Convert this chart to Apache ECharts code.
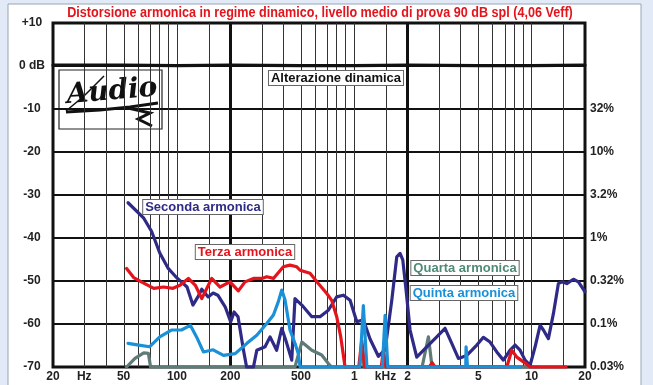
<!DOCTYPE html>
<html>
<head>
<meta charset="utf-8">
<script src="https://cdn.jsdelivr.net/npm/echarts@6/dist/echarts.min.js"></script>
<style>
  html, body { margin: 0; padding: 0; background: #e1eaf6; }
  #chart { width: 653px; height: 385px; }
</style>
</head>
<body>
<div id="chart"></div>
<script>
// Harmonic levels as [frequency Hz, level dB]
const seconda = [[53,-31.8],[65,-35.4],[72,-38.5],[80,-43.5],[89,-47],[100,-49.3],[106,-50.2],[114,-51.4],[123,-55.6],[132,-53.5],
  [138,-51.9],[150,-53.7],[160,-52.8],[170,-53.3],[187,-56],[201,-59.5],[210,-57.2],[221,-58.3],[237,-66],[247,-70],
  [270,-70],[282,-66.1],[314,-65.3],[335,-63],[365,-66.1],[390,-61],[416,-64.5],[444,-68.4],[463,-54.1],[506,-55.6],
  [576,-58.3],[641,-58.3],[714,-56.8],[796,-53.7],[868,-53.3],[947,-54.5],[1033,-59.5],[1125,-59],[1227,-63.5],[1367,-67.5],
  [1492,-66],[1627,-54.5],[1736,-44.4],[1812,-43.6],[1877,-45.1],[1959,-52.1],[2063,-61.4],[2250,-67.7],[2564,-65.3],[2918,-63],
  [3250,-61],[3546,-64.5],[3864,-68],[4310,-67.3],[4908,-64.9],[5346,-63.1],[5830,-64.2],[6362,-66.5],[6932,-68.4],[7562,-66.1],
  [8070,-64.9],[8610,-66.1],[9188,-68.4],[9804,-69.6],[10464,-65.3],[11162,-60.3],[11652,-61.4],[12434,-63.4],[13268,-57.6],[14158,-50.6],
  [14796,-50.2],[15790,-50.6],[17204,-49.6],[18360,-50.2],[20000,-52.5]];

const terza = [[52,-47.1],[57,-49.2],[63,-50.2],[74,-51.7],[84,-51.4],[95,-51.7],[104,-51],[116,-49.4],[127,-51],[138,-54.1],
  [157,-49.4],[175,-51.4],[199,-50.2],[222,-52.3],[242,-50.2],[270,-49.4],[301,-49.4],[321,-49],[350,-49.4],[398,-46.7],
  [434,-46.3],[474,-46.7],[495,-47.5],[563,-48.2],[627,-50.6],[700,-52.9],[746,-54.5],[796,-58.3],[839,-63],[887,-70],
  [1060,-70],[1102,-63.8],[1145,-70],[1420,-70],[1459,-66.1],[1510,-70],[2650,-70],[2746,-69],[2850,-70],[7244,-70],
  [7730,-66.1],[8250,-67.7],[8988,-68.8],[9804,-70],[15650,-70]];

const quarta = [[52,-70],[58,-68],[65,-66.7],[69,-66.8],[71,-70],[463,-70],[506,-64.2],[576,-66.1],[655,-67.2],[714,-69.2],
  [746,-70],[1070,-70],[1102,-65],[1135,-70],[2412,-70],[2618,-63],[2746,-70],[10918,-70]];

const quinta = [[53,-64.5],[61,-64.9],[70,-65.3],[80,-63],[93,-61.4],[106,-61.4],[119,-60.3],[129,-63],[141,-66.5],[160,-66],
  [183,-67.3],[213,-66.9],[248,-64.5],[282,-62.6],[321,-59.9],[350,-57.9],[373,-54.8],[390,-52.1],[407,-54.4],[434,-61.4],
  [463,-64.5],[484,-67],[495,-70],[1075,-70],[1125,-55.7],[1178,-70],[1440,-70],[1492,-58],[1545,-70],[4250,-70],
  [4270,-65.3],[4330,-65.3],[4350,-70],[8610,-70]];

const alterazione = [[20,0.2],[50,0.2],[100,0.1],[200,0.2],[500,0.1],[1000,0.1],[2000,0.2],[5000,0.1],[10000,0.1],[20000,0.2]];

// Axis ticks
const xTickHz = [20, 30, 50, 100, 200, 500, 1000, 1500, 2000, 5000, 10000, 20000];
const xTickText = ['20', 'Hz', '50', '100', '200', '500', '1', 'kHz', '2', '5', '10', '20'];
const gridMinorHz = [30,40,50,60,70,80,90,100,150,300,400,500,600,700,800,900,1000,1500,3000,4000,5000,6000,7000,8000,9000,10000,15000];
const gridMajorHz = [200, 2000];
const yLeftText = { '10': '+10', '0': '0 dB', '-10': '-10', '-20': '-20', '-30': '-30', '-40': '-40', '-50': '-50', '-60': '-60', '-70': '-70' };
const yRightText = { '-10': '32%', '-20': '10%', '-30': '3.2%', '-40': '1%', '-50': '0.32%', '-60': '0.1%', '-70': '0.03%' };

const LOG = Math.log10;
const toXY = pts => pts.map(p => [LOG(p[0]), p[1]]);
const FONT = '"Liberation Sans", Arial, sans-serif';

function xLabel(v) {
  for (let i = 0; i < xTickHz.length; i++) {
    if (Math.abs(LOG(xTickHz[i]) - v) < 1e-6) return xTickText[i];
  }
  return '';
}

const chart = echarts.init(document.getElementById('chart'), null, { renderer: 'canvas' });

function curve(name, pts, color, z) {
  return {
    name, type: 'line', data: toXY(pts), showSymbol: false, symbol: 'none',
    clip: false, z, animation: false, silent: true,
    lineStyle: { color, width: 3.2, join: 'round', cap: 'round' }
  };
}

const gridLines = [];
gridMinorHz.forEach(f => gridLines.push({ xAxis: LOG(f), lineStyle: { color: '#333', width: 1, type: 'solid' } }));
gridMajorHz.forEach(f => gridLines.push({ xAxis: LOG(f), lineStyle: { color: '#111', width: 3, type: 'solid' } }));

function box(text, x, y, color) {
  return {
    type: 'text', x, y, z: 50,
    style: {
      text, x: 0, y: 0, align: 'center', verticalAlign: 'middle',
      fill: color, font: 'bold 13px ' + FONT,
      backgroundColor: '#fff', borderColor: '#666', borderWidth: 1, padding: [1, 2, 0, 2]
    }
  };
}

chart.setOption({
  backgroundColor: '#e1eaf6',
  animation: false,
  grid: { left: 53, right: 68, top: 23, bottom: 18, show: true, backgroundColor: '#fff', borderColor: '#111', borderWidth: 3, z: 0 },
  xAxis: {
    type: 'value', min: LOG(20), max: LOG(20000),
    axisLine: { show: false }, axisTick: { show: false }, splitLine: { show: false },
    axisLabel: {
      customValues: xTickHz.map(LOG), formatter: xLabel,
      color: '#222', fontWeight: 'bold', fontSize: 12, fontFamily: FONT, margin: 4
    }
  },
  yAxis: [{
    type: 'value', min: -70, max: 10, interval: 10,
    axisLine: { show: false }, axisTick: { show: false },
    splitLine: { show: true, lineStyle: { color: '#111', width: 2 } },
    axisLabel: { formatter: v => yLeftText[String(v)] || '', align: 'center', margin: 21,
      color: '#222', fontWeight: 'bold', fontSize: 12, fontFamily: FONT }
  }, {
    type: 'value', position: 'right', min: -70, max: 10, interval: 10,
    axisLine: { show: false }, axisTick: { show: false }, splitLine: { show: false },
    axisLabel: { formatter: v => yRightText[String(v)] || '', align: 'left', margin: 5,
      color: '#222', fontWeight: 'bold', fontSize: 12, fontFamily: FONT }
  }],
  graphic: [
    { type: 'rect', z: -10, shape: { x: 8, y: 4, width: 633, height: 392 },
      style: { fill: '#fff', stroke: '#9aa6b4', lineWidth: 1 } },
    { type: 'text', x: 320, y: 13, z: 50, scaleX: 0.9,
      style: { text: 'Distorsione armonica in regime dinamico, livello medio di prova 90 dB spl (4,06 Veff)',
        align: 'center', verticalAlign: 'middle', fill: '#e3141c', font: 'bold 14px ' + FONT } },
    // logo
    { type: 'group', z: 40, children: [
      { type: 'rect', shape: { x: 59, y: 70, width: 103, height: 59 }, style: { fill: '#fff', stroke: '#222', lineWidth: 1.2 } },
      { type: 'text', x: 112, y: 92, rotation: 0.08,
        style: { text: 'Audio', align: 'center', verticalAlign: 'middle', fill: '#111', font: 'italic bold 28px "DejaVu Serif", serif' } },
      { type: 'polyline', shape: { points: [[66, 112], [100, 110], [130, 107], [158, 103]] }, style: { stroke: '#111', lineWidth: 3, fill: null } },
      { type: 'polyline', shape: { points: [[66, 111], [84, 96], [104, 76]] }, style: { stroke: '#111', lineWidth: 1.5, fill: null } },
      { type: 'polyline', shape: { points: [[128, 108], [150, 113], [138, 119], [152, 126]] }, style: { stroke: '#111', lineWidth: 3, fill: null } }
    ] },
    box('Seconda armonica', 203, 207, '#2e2a86'),
    box('Terza armonica', 245, 252, '#e3141c'),
    box('Alterazione dinamica', 336, 78, '#111'),
    box('Quarta armonica', 465, 268, '#4e8a76'),
    box('Quinta armonica', 464, 293, '#1a90d8')
  ],
  series: [
    { name: 'grid', type: 'line', data: [], z: 1, silent: true,
      markLine: { silent: true, symbol: 'none', label: { show: false }, animation: false, data: gridLines } },
    curve('Alterazione dinamica', alterazione, '#111', 5),
    curve('Quarta armonica', quarta, '#5e7b78', 6),
    curve('Seconda armonica', seconda, '#2e2a86', 7),
    curve('Terza armonica', terza, '#e3141c', 8),
    curve('Quinta armonica', quinta, '#1a90d8', 9)
  ]
});
</script>
</body>
</html>
